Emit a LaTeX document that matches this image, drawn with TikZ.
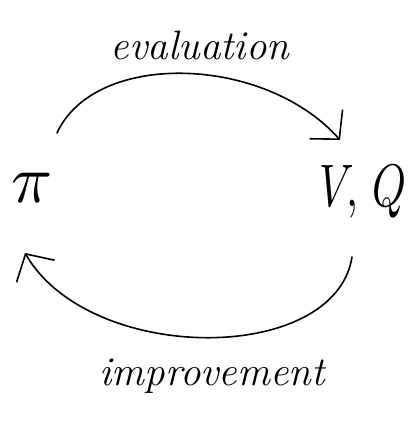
\documentclass[tikz,border=0pt]{standalone}
\usepackage{fontspec}
\usetikzlibrary{arrows.meta}
\tikzset{
  lbl/.style={font=\fontsize{41}{45}\selectfont\itshape, inner sep=0pt},
  sym/.style={inner sep=0pt},
  loop/.style={line width=1.6pt, line cap=round, -{Straight Barb[length=20pt,width=44pt,line width=1.6pt]}}
}
\begin{document}
\begin{tikzpicture}[x=1pt,y=-1pt]
\useasboundingbox (0,0) rectangle (409,430);
\node[sym, scale=6.8] (pi) at (32,188) {$\pi$};
\node[sym, xscale=4.3, yscale=6] (vq) at (363,192) {$V\!,\,Q$};
\node[lbl] (ev) at (200,45) {evaluation};
\node[lbl] (im) at (212,376) {improvement};
\coordinate (s1) at (57,133);
\coordinate (e1) at (340,140);
\coordinate (s2) at (352,257);
\coordinate (e2) at (25,253);
\draw[loop] (s1) .. controls (95,50) and (265,55) .. (e1);
\draw[loop] (s2) .. controls (335,365) and (90,365) .. (e2);
\end{tikzpicture}
\end{document}
